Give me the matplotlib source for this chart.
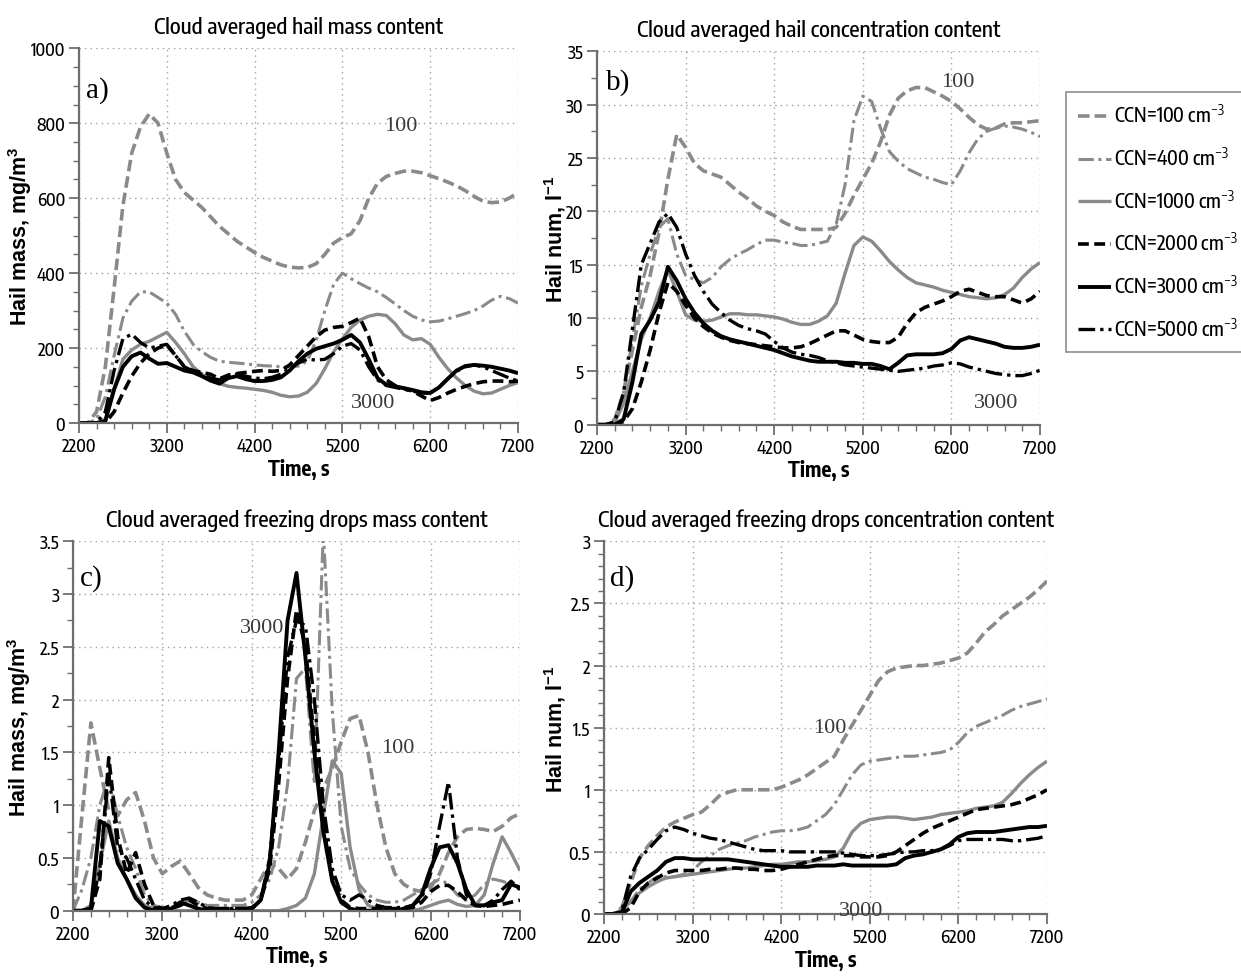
import numpy as np
import matplotlib
matplotlib.use("Agg")
import matplotlib.pyplot as plt
from matplotlib import font_manager as fm
from matplotlib.ticker import MultipleLocator

# ---------------- data ----------------
time_s = np.arange(2200, 7201, 100)
ccn_labels = ["CCN=100 cm$^{-3}$", "CCN=400 cm$^{-3}$", "CCN=1000 cm$^{-3}$",
              "CCN=2000 cm$^{-3}$", "CCN=3000 cm$^{-3}$", "CCN=5000 cm$^{-3}$"]

# a) hail mass, mg/m3
a_100 = [0, 0, 30, 150, 360, 580, 720, 790, 825, 800, 720, 650, 615, 595, 575, 550, 525, 505, 485, 470,
         455, 442, 432, 422, 416, 414, 415, 425, 450, 480, 495, 505, 540, 600, 640, 658, 666, 672, 672, 668,
         660, 652, 643, 633, 620, 605, 592, 588, 590, 600, 615]
a_400 = [0, 0, 10, 70, 180, 280, 325, 350, 350, 335, 320, 290, 245, 210, 190, 175, 165, 162, 160, 158,
         155, 153, 152, 150, 150, 152, 165, 220, 300, 370, 400, 385, 372, 360, 350, 335, 318, 300, 285, 275,
         270, 272, 278, 285, 292, 300, 312, 328, 338, 332, 320]
a_1000 = [0, 0, 0, 10, 90, 170, 195, 210, 218, 230, 242, 215, 185, 150, 130, 115, 105, 98, 95, 93,
          90, 87, 82, 74, 70, 72, 82, 105, 145, 190, 225, 255, 275, 285, 290, 287, 265, 235, 222, 225,
          210, 175, 145, 120, 100, 85, 78, 80, 90, 100, 108]
a_2000 = [0, 0, 0, 0, 30, 80, 125, 160, 185, 200, 208, 180, 150, 140, 135, 130, 118, 128, 132, 135,
          138, 140, 138, 140, 155, 180, 205, 230, 248, 255, 258, 268, 280, 230, 150, 115, 100, 92, 85, 72,
          60, 68, 80, 90, 98, 105, 110, 112, 112, 110, 112]
a_3000 = [0, 0, 0, 5, 90, 150, 178, 188, 172, 158, 160, 150, 140, 135, 125, 113, 105, 120, 125, 117,
          112, 112, 115, 122, 140, 165, 185, 198, 205, 212, 222, 235, 215, 170, 120, 102, 98, 93, 88, 82,
          80, 95, 118, 140, 152, 155, 153, 150, 145, 140, 133]
a_5000 = [0, 0, 0, 30, 140, 225, 237, 215, 200, 205, 210, 180, 150, 138, 130, 120, 115, 125, 130, 125,
          120, 118, 122, 130, 145, 160, 170, 168, 170, 185, 205, 212, 195, 150, 115, 100, 95, 90, 85, 80,
          80, 95, 118, 138, 150, 155, 150, 140, 130, 120, 112]

# b) hail number, 1/l
b_100 = [0, 0, 0.5, 3, 7, 11, 14, 18, 23, 27.2, 26, 24.5, 23.8, 23.5, 23.2, 22.5, 21.8, 21.2, 20.5, 20,
         19.6, 19, 18.6, 18.3, 18.3, 18.3, 18.3, 18.5, 19.8, 21.5, 23, 24.5, 26.5, 29, 30.6, 31.3, 31.6, 31.6, 31.2, 30.8,
         30.3, 29.6, 28.8, 28.1, 27.7, 27.8, 28.2, 28.3, 28.3, 28.4, 28.5]
b_400 = [0, 0, 0.3, 3, 8, 13, 16, 18.5, 19.3, 16, 14, 13.6, 13.3, 13.8, 14.8, 15.5, 16, 16.4, 16.9, 17.3,
         17.3, 17.1, 17, 16.8, 16.8, 17, 17.2, 18.8, 22.5, 28.5, 30.8, 30.3, 27.8, 25.6, 24.7, 24, 23.6, 23.2, 23, 22.7,
         22.5, 23.8, 25.5, 26.8, 27.5, 27.8, 28, 27.9, 27.7, 27.4, 27]
b_1000 = [0, 0, 0.2, 2, 5, 8, 10, 12.5, 14.5, 12.5, 10.3, 9.8, 9.7, 9.8, 10.1, 10.4, 10.4, 10.3, 10.3, 10.2,
          10.1, 9.9, 9.6, 9.4, 9.4, 9.7, 10.2, 11.4, 14.2, 16.8, 17.6, 17.2, 16.3, 15.3, 14.5, 13.8, 13.3, 13.1, 12.9, 12.6,
          12.4, 12.2, 12.0, 11.9, 11.8, 11.9, 12.2, 12.8, 13.8, 14.6, 15.2]
b_2000 = [0, 0, 0, 0.3, 1.5, 4, 7, 10.5, 13.3, 12.5, 11.2, 10, 9.2, 8.6, 8.2, 7.9, 7.7, 7.6, 7.5, 7.4,
          7.3, 7.2, 7.2, 7.3, 7.6, 8.0, 8.4, 8.8, 8.8, 8.4, 8.0, 7.8, 7.7, 7.7, 8.2, 9.5, 10.5, 11.0, 11.3, 11.6,
          12.0, 12.5, 12.7, 12.4, 12.1, 12.0, 12.0, 11.7, 11.4, 11.8, 12.5]
b_3000 = [0, 0, 0, 0.5, 4, 8.5, 9.8, 11.5, 14.8, 13.5, 11.8, 10.5, 9.5, 8.8, 8.3, 8.0, 7.8, 7.6, 7.4, 7.2,
          7.0, 6.7, 6.4, 6.2, 6.0, 5.9, 5.9, 5.9, 5.8, 5.8, 5.7, 5.7, 5.5, 5.2, 5.8, 6.5, 6.6, 6.6, 6.6, 6.7,
          7.1, 7.9, 8.2, 8.0, 7.8, 7.6, 7.3, 7.2, 7.2, 7.3, 7.5]
b_5000 = [0, 0, 0.3, 3, 9, 15, 17, 19, 19.8, 18.5, 16, 14, 12.5, 11.3, 10.5, 9.8, 9.3, 9.0, 8.8, 8.5,
          7.8, 7.2, 6.8, 6.6, 6.5, 6.3, 6.0, 5.8, 5.6, 5.5, 5.4, 5.3, 5.2, 5.1, 5.0, 5.1, 5.2, 5.3, 5.5, 5.6,
          5.8, 5.7, 5.4, 5.2, 5.0, 4.8, 4.7, 4.6, 4.6, 4.8, 5.1]

# c) freezing drops mass, mg/m3
c_100 = [0, 0.9, 1.78, 1.35, 0.95, 0.9, 1.05, 1.12, 0.85, 0.5, 0.35, 0.42, 0.47, 0.35, 0.22, 0.15, 0.12, 0.1, 0.1, 0.1,
         0.15, 0.3, 0.45, 0.4, 0.3, 0.4, 0.65, 0.95, 1.15, 1.35, 1.6, 1.82, 1.85, 1.5, 1.0, 0.6, 0.35, 0.25, 0.2, 0.18,
         0.22, 0.35, 0.55, 0.7, 0.77, 0.78, 0.77, 0.75, 0.8, 0.88, 0.92]
c_400 = [0, 0.2, 0.5, 1.0, 1.27, 0.9, 0.6, 0.4, 0.15, 0.05, 0.03, 0.03, 0.05, 0.1, 0.08, 0.05, 0.05, 0.05, 0.05, 0.05,
         0.08, 0.15, 0.3, 0.6, 1.2, 2.2, 2.3, 1.2, 3.6, 1.9, 0.8, 0.4, 0.25, 0.15, 0.1, 0.08, 0.08, 0.1, 0.15, 0.2,
         0.25, 0.3, 0.25, 0.15, 0.1, 0.15, 0.25, 0.3, 0.28, 0.25, 0.2]
c_1000 = [0, 0, 0.05, 0.45, 0.85, 0.5, 0.3, 0.15, 0.05, 0.02, 0, 0, 0, 0, 0, 0, 0, 0, 0, 0,
          0, 0, 0, 0, 0.02, 0.05, 0.12, 0.35, 0.9, 1.42, 1.3, 0.6, 0.2, 0.05, 0.02, 0, 0, 0, 0, 0.02,
          0.05, 0.08, 0.1, 0.06, 0.04, 0.05, 0.15, 0.45, 0.7, 0.55, 0.38]
c_2000 = [0, 0, 0, 0.3, 1.45, 0.7, 0.35, 0.55, 0.25, 0.05, 0.02, 0.02, 0.05, 0.1, 0.05, 0.02, 0.02, 0.02, 0.02, 0.02,
          0.02, 0.1, 0.4, 1.2, 2.2, 2.85, 2.5, 1.6, 0.8, 0.3, 0.1, 0.03, 0.02, 0.02, 0.02, 0.02, 0.02, 0.02, 0.03, 0.08,
          0.18, 0.24, 0.24, 0.18, 0.1, 0.05, 0.04, 0.05, 0.06, 0.08, 0.1]
c_3000 = [0, 0, 0.02, 0.85, 0.8, 0.45, 0.3, 0.12, 0.03, 0, 0, 0.02, 0.08, 0.05, 0.02, 0, 0, 0, 0, 0,
          0.02, 0.1, 0.45, 1.5, 2.75, 3.2, 2.4, 1.5, 0.75, 0.28, 0.08, 0.02, 0, 0, 0, 0, 0, 0.02, 0.05, 0.15,
          0.4, 0.6, 0.62, 0.45, 0.2, 0.05, 0.05, 0.08, 0.1, 0.25, 0.22]
c_5000 = [0, 0, 0.02, 0.4, 1.3, 0.6, 0.5, 0.3, 0.1, 0.03, 0.02, 0.05, 0.1, 0.12, 0.08, 0.03, 0.02, 0.02, 0.02, 0.02,
          0.03, 0.1, 0.5, 1.4, 2.4, 2.75, 2.7, 2.0, 1.0, 0.4, 0.15, 0.1, 0.15, 0.1, 0.05, 0.03, 0.03, 0.03, 0.05, 0.12,
          0.35, 0.8, 1.22, 0.5, 0.15, 0.05, 0.05, 0.1, 0.2, 0.28, 0.2]

# d) freezing drops number, 1/l
d_100 = [0, 0, 0.05, 0.25, 0.45, 0.55, 0.63, 0.7, 0.74, 0.77, 0.8, 0.82, 0.88, 0.95, 0.98, 1.0, 1.0, 1.0, 1.0, 1.0,
         1.02, 1.05, 1.08, 1.12, 1.17, 1.22, 1.27, 1.4, 1.52, 1.64, 1.76, 1.88, 1.95, 1.98, 1.99, 2.0, 2.0, 2.01, 2.02, 2.04,
         2.06, 2.1, 2.18, 2.27, 2.33, 2.4, 2.45, 2.5, 2.55, 2.61, 2.68]
d_400 = [0, 0, 0.02, 0.1, 0.2, 0.25, 0.3, 0.3, 0.3, 0.32, 0.35, 0.42, 0.47, 0.52, 0.55, 0.57, 0.59, 0.62, 0.64, 0.66,
         0.67, 0.67, 0.68, 0.7, 0.75, 0.8, 0.88, 1.0, 1.12, 1.2, 1.23, 1.24, 1.25, 1.26, 1.27, 1.27, 1.28, 1.29, 1.3, 1.32,
         1.38, 1.46, 1.51, 1.54, 1.57, 1.6, 1.64, 1.67, 1.69, 1.71, 1.73]
d_1000 = [0, 0, 0.03, 0.1, 0.17, 0.22, 0.26, 0.29, 0.3, 0.31, 0.32, 0.33, 0.34, 0.35, 0.36, 0.37, 0.37, 0.38, 0.39, 0.4,
          0.4, 0.41, 0.42, 0.42, 0.43, 0.44, 0.46, 0.53, 0.66, 0.73, 0.76, 0.77, 0.78, 0.78, 0.77, 0.76, 0.77, 0.78, 0.8, 0.81,
          0.82, 0.83, 0.85, 0.86, 0.87, 0.9, 0.97, 1.05, 1.12, 1.18, 1.23]
d_2000 = [0, 0, 0, 0.05, 0.18, 0.25, 0.29, 0.33, 0.35, 0.35, 0.35, 0.35, 0.36, 0.36, 0.37, 0.37, 0.36, 0.36, 0.35, 0.35,
          0.36, 0.38, 0.4, 0.42, 0.44, 0.46, 0.47, 0.47, 0.47, 0.46, 0.46, 0.46, 0.47, 0.5, 0.55, 0.6, 0.65, 0.69, 0.72, 0.75,
          0.78, 0.81, 0.84, 0.85, 0.86, 0.87, 0.88, 0.9, 0.93, 0.96, 1.0]
d_3000 = [0, 0, 0.01, 0.18, 0.25, 0.3, 0.35, 0.42, 0.45, 0.45, 0.44, 0.44, 0.44, 0.44, 0.44, 0.43, 0.42, 0.41, 0.4, 0.39,
          0.38, 0.38, 0.38, 0.38, 0.39, 0.39, 0.39, 0.4, 0.39, 0.39, 0.39, 0.39, 0.39, 0.4, 0.45, 0.47, 0.48, 0.5, 0.52, 0.56,
          0.62, 0.65, 0.66, 0.66, 0.66, 0.67, 0.68, 0.69, 0.7, 0.7, 0.71]
d_5000 = [0, 0, 0.02, 0.3, 0.45, 0.52, 0.6, 0.67, 0.7, 0.68, 0.65, 0.63, 0.61, 0.6, 0.58, 0.56, 0.54, 0.52, 0.51, 0.51,
          0.51, 0.5, 0.5, 0.5, 0.5, 0.5, 0.5, 0.49, 0.48, 0.47, 0.47, 0.47, 0.48, 0.49, 0.5, 0.5, 0.51, 0.51, 0.52, 0.55,
          0.59, 0.6, 0.6, 0.6, 0.6, 0.6, 0.59, 0.59, 0.6, 0.61, 0.63]

x_ticks = [2200, 3200, 4200, 5200, 6200, 7200]
titles = ["Cloud averaged hail mass content",
          "Cloud averaged hail concentration content",
          "Cloud averaged freezing drops mass content",
          "Cloud averaged freezing drops concentration content"]
ylabels = ["Hail mass, mg/m$^{\\mathbf{3}}$", "Hail num, l$^{\\mathbf{-1}}$",
           "Hail mass, mg/m$^{\\mathbf{3}}$", "Hail num, l$^{\\mathbf{-1}}$"]
panel_letters = ["a)", "b)", "c)", "d)"]

# ---------------- fonts ----------------
ttf = fm.fontManager.ttflist
names = {f.name for f in ttf}
SANS = "Liberation Sans" if "Liberation Sans" in names else "DejaVu Sans"
SERIF = "Liberation Serif" if "Liberation Serif" in names else "DejaVu Serif"
NARROW, STRETCH = SANS, "normal"
narrow_named = sorted(f.name for f in ttf if ("Narrow" in f.name or "Condensed" in f.name))
if narrow_named:
    pref = [n for n in narrow_named if "Liberation" in n] or [n for n in narrow_named if "Sans" in n] or narrow_named
    NARROW = pref[0]
else:
    for fam in ("Liberation Sans", "DejaVu Sans", "Noto Sans", "Open Sans", "Roboto"):
        if any(f.name == fam and str(f.stretch) in ("condensed", "semi-condensed", "extra-condensed")
               for f in ttf):
            NARROW, STRETCH = fam, "condensed"
            break

plt.rcParams["font.family"] = [NARROW, "DejaVu Sans"]
plt.rcParams["mathtext.fontset"] = "custom"
plt.rcParams["mathtext.rm"] = NARROW
plt.rcParams["mathtext.bf"] = SANS + ":bold"

GRAY = "#8a8a8a"
styles = [
    dict(color=GRAY, ls=(0, (3.2, 1.4)), lw=2.6),
    dict(color=GRAY, ls=(0, (5, 1.5, 1, 1.5)), lw=2.2),
    dict(color=GRAY, ls="-", lw=2.4),
    dict(color="black", ls=(0, (3, 1.5)), lw=2.6),
    dict(color="black", ls="-", lw=2.8),
    dict(color="black", ls=(0, (5, 1.5, 1, 1.5)), lw=2.4),
]

W, H = 1241, 978
fig = plt.figure(figsize=(W / 100, H / 100), dpi=100)


def rect(l, r, b, t):
    return [l / W, 1 - b / H, (r - l) / W, (b - t) / H]


panels = [
    dict(rect=rect(79, 518, 424, 49.3), data=[a_100, a_400, a_1000, a_2000, a_3000, a_5000],
         ylim=(0, 1000), ymaj=200, ymin=50, yfmt="{:.0f}", ylab_x=34,
         letter=(2285, 890), notes=[("100", 5870, 795), ("3000", 5545, 55)]),
    dict(rect=rect(597, 1040, 425.7, 52.3), data=[b_100, b_400, b_1000, b_2000, b_3000, b_5000],
         ylim=(0, 35), ymaj=5, ymin=2.5, yfmt="{:.0f}", ylab_x=568,
         letter=(2300, 32.2), notes=[("100", 6270, 32.2), ("3000", 6700, 2.1)]),
    dict(rect=rect(73, 520, 911.7, 542.3), data=[c_100, c_400, c_1000, c_2000, c_3000, c_5000],
         ylim=(0, 3.5), ymaj=0.5, ymin=0.25, yfmt="{:g}", ylab_x=33,
         letter=(2280, 3.16), notes=[("3000", 4320, 2.68), ("100", 5834, 1.55)]),
    dict(rect=rect(604, 1047, 915, 542.3), data=[d_100, d_400, d_1000, d_2000, d_3000, d_5000],
         ylim=(0, 3), ymaj=0.5, ymin=0.1, yfmt="{:g}", ylab_x=568,
         letter=(2270, 2.71), notes=[("100", 4747, 1.5), ("3000", 5100, 0.03)]),
]

narrow_is_real = NARROW != SANS or STRETCH == "condensed"
tick_fs = 12.5 if narrow_is_real else 10.5
title_fs = 16 if narrow_is_real else 13.5
leg_fs = 14 if narrow_is_real else 11.5
xlab_fs = 15 if narrow_is_real else 12.5

handles = None
for i, p in enumerate(panels):
    ax = fig.add_axes(p["rect"])
    hs = []
    for series, st, lab in zip(p["data"], styles, ccn_labels):
        assert len(series) == len(time_s)
        (h,) = ax.plot(time_s, series, label=lab, solid_capstyle="butt",
                       dash_capstyle="butt", **st)
        hs.append(h)
    if handles is None:
        handles = hs
    ax.set_xlim(2200, 7200)
    ax.set_ylim(*p["ylim"])
    ax.set_xticks(x_ticks)
    ax.xaxis.set_minor_locator(MultipleLocator(200))
    ax.yaxis.set_major_locator(MultipleLocator(p["ymaj"]))
    ax.yaxis.set_minor_locator(MultipleLocator(p["ymin"]))
    ax.set_yticklabels([p["yfmt"].format(v) for v in ax.get_yticks()])
    ax.grid(True, which="major", ls=(0, (1, 3)), color="#a0a0a0", lw=1.0)
    for s in ("top", "right"):
        ax.spines[s].set_visible(False)
    for s in ("left", "bottom"):
        ax.spines[s].set_color("#6e6e6e")
        ax.spines[s].set_linewidth(1.6)
    ax.tick_params(which="major", direction="out", length=7, width=1.3, color="#6e6e6e",
                   labelsize=tick_fs, pad=3)
    ax.tick_params(which="minor", direction="out", length=4, width=1.0, color="#6e6e6e")
    for lbl in ax.get_xticklabels() + ax.get_yticklabels():
        lbl.set_fontstretch(STRETCH)
        lbl.set_fontweight("medium")
    ax.set_title(titles[i], fontsize=title_fs, pad=11, fontstretch=STRETCH, fontweight="medium")
    ax.set_xlabel("Time, s", fontsize=xlab_fs, fontweight="bold", labelpad=2, fontstretch=STRETCH)
    ax.set_ylabel(ylabels[i], fontsize=15.5, fontweight="bold", family=[SANS, "DejaVu Sans"])
    l_px = p["rect"][0] * W
    w_px = p["rect"][2] * W
    ax.yaxis.set_label_coords((p["ylab_x"] - l_px) / w_px, 0.5)
    lx, ly = p["letter"]
    ax.text(lx, ly, panel_letters[i], family=[SERIF], fontsize=21, va="center", ha="left")
    for txt, tx, ty in p["notes"]:
        ax.text(tx, ty, txt, family=[SERIF], fontsize=16, color="#3a3a3a",
                va="center", ha="center")

leg = fig.legend(handles=handles, labels=ccn_labels, loc="upper left",
                 bbox_to_anchor=(1066 / W, 1 - 93 / H), bbox_transform=fig.transFigure,
                 fontsize=leg_fs, frameon=True, fancybox=False, edgecolor="#707070",
                 handlelength=1.7, handletextpad=0.15, labelspacing=1.0,
                 borderpad=0.6, borderaxespad=0)
leg.get_frame().set_linewidth(1.2)
for t in leg.get_texts():
    t.set_fontstretch(STRETCH)
    t.set_fontweight("medium")

fig.savefig("out.png", dpi=100)
